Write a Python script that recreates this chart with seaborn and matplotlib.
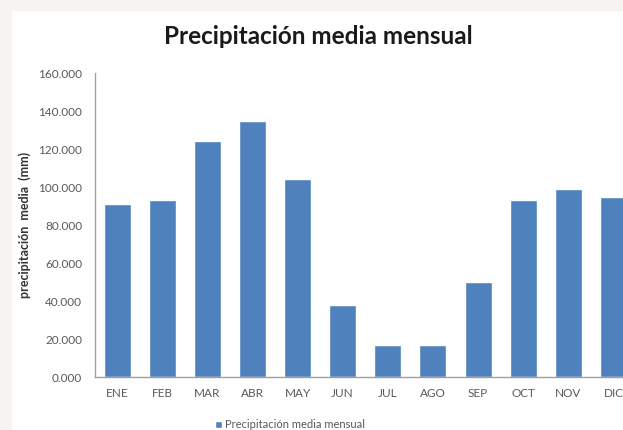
import numpy as np
import pandas as pd
import seaborn as sns
import matplotlib.pyplot as plt
from matplotlib.patches import Rectangle, Patch

# Datos
meses = ['ENE', 'FEB', 'MAR', 'ABR', 'MAY', 'JUN', 'JUL', 'AGO', 'SEP', 'OCT', 'NOV', 'DIC']
precipitacion = [91, 93, 124, 135, 104, 38, 17, 17, 50, 93, 99, 95]
y_ticks = [0, 20, 40, 60, 80, 100, 120, 140, 160]

df = pd.DataFrame({'mes': meses, 'precip': precipitacion})

sns.set_style('white')
plt.rcParams['font.family'] = ['Lato', 'DejaVu Sans']

bar_color = '#4f81bd'
tick_color = '#595959'

fig = plt.figure(figsize=(6.23, 4.30), dpi=100)
fig.patch.set_facecolor('#f5f4f0')
# panel blanco (recorte del original)
fig.patches.append(Rectangle((12 / 623, 0), 1, 1 - 11 / 430, transform=fig.transFigure,
                             facecolor='white', edgecolor='none', zorder=-10))

ax = fig.add_axes([94.5 / 623, 53 / 430, 541.5 / 623, 304 / 430])
ax.set_facecolor('white')
sns.barplot(data=df, x='mes', y='precip', color=bar_color, saturation=1,
            width=0.6, ax=ax)

ax.set_xlim(-0.5, 11.5)
ax.set_ylim(0, 160)
ax.set_yticks(y_ticks)
ax.set_yticklabels([f'{v:.3f}' for v in y_ticks])
ax.tick_params(axis='both', colors=tick_color, length=0)
ax.tick_params(axis='x', pad=8, labelsize=8.5)
ax.tick_params(axis='y', pad=9, labelsize=8.5)
ax.set_xlabel('')
ax.set_ylabel('precipitación  media  (mm)', fontsize=9, fontweight='bold',
              color='#333333', labelpad=5)

for side in ['top', 'right']:
    ax.spines[side].set_visible(False)
for side in ['left', 'bottom']:
    ax.spines[side].set_color('#a0a0a0')
    ax.spines[side].set_linewidth(1)

fig.text(318 / 623, 1 - 37 / 430, 'Precipitación media mensual', ha='center', va='center',
         fontsize=17.5, fontweight='bold', color='#1a1a1a')

fig.legend(handles=[Patch(facecolor=bar_color, label='Precipitación media mensual')],
           loc='center', bbox_to_anchor=(290 / 623, 5 / 430), frameon=False,
           fontsize=8, handlelength=0.6, handleheight=0.6, handletextpad=0.3,
           labelcolor=tick_color)

fig.savefig('out.png', dpi=100, facecolor=fig.get_facecolor())
